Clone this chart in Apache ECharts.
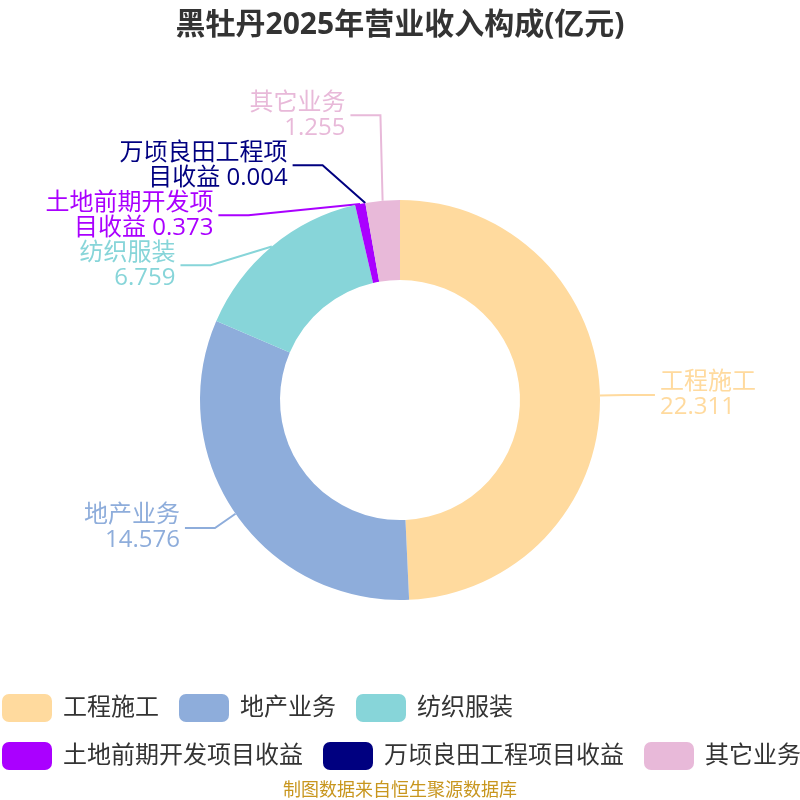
<!DOCTYPE html>
<html>
<head>
<meta charset="utf-8">
<script src="https://cdn.jsdelivr.net/npm/echarts@6/dist/echarts.min.js"></script>
<style>
html, body { margin: 0; padding: 0; background: #fff; }
#container { width: 800px; height: 800px; }
</style>
</head>
<body>
<div id="container"></div>
<script>
// 数据
var names = ['工程施工', '地产业务', '纺织服装', '土地前期开发项目收益', '万顷良田工程项目收益', '其它业务'];
var values = [22.311, 14.576, 6.759, 0.373, 0.004, 1.255];
var colors = ['#FFDA9E', '#8EADDB', '#87D5D9', '#AA00FF', '#000080', '#E8B9D9'];

var dom = document.getElementById("container");
var myChart = echarts.init(dom);
var font = '"Open Sans", "Noto Sans CJK SC", sans-serif';

var lineLen = 25, lineLen2 = 30, ellipseB = 250;
var labelCache = null;

// 标签布局：先按自然位置叠放避免重叠，再把每组的平均偏移量平衡回去
function computeLabels(h) {
    var data = myChart.getModel().getSeriesByIndex(0).getData();
    var items = [];
    for (var i = 0; i < data.count(); i++) {
        var ly = data.getItemLayout(i);
        var mid = (ly.startAngle + ly.endAngle) / 2;
        var dx = Math.cos(mid), dy = Math.sin(mid);
        var rA = ly.r + lineLen;
        items.push({
            idx: i, cx: ly.cx, cy: ly.cy, rA: rA,
            dir: dx < 0 ? -1 : 1,
            p0: [ly.cx + ly.r * dx, ly.cy + ly.r * dy],
            ex: ly.cx + rA * dx,
            y0: ly.cy + rA * dy
        });
    }
    var out = {};
    [-1, 1].forEach(function (dir) {
        var side = items.filter(function (it) { return it.dir === dir; });
        side.sort(function (a, b) { return a.y0 - b.y0; });
        var last = -Infinity;
        side.forEach(function (it) {
            it.y = Math.max(it.y0, last + h);
            last = it.y;
        });
        // 按接触的标签分组
        var groups = [], cur = [];
        side.forEach(function (it, k) {
            if (k > 0 && it.y - side[k - 1].y > h + 0.5) { groups.push(cur); cur = []; }
            cur.push(it);
        });
        if (cur.length) groups.push(cur);
        groups.forEach(function (g) {
            var s = 0;
            g.forEach(function (it) { s += it.y - it.y0; });
            var m = s / g.length;
            g.forEach(function (it) { it.y -= m; });
        });
        side.forEach(function (it) {
            var ex = it.ex;
            if (Math.abs(it.y - it.y0) > 0.5) {
                var d = Math.abs(it.y - it.cy);
                if (d < ellipseB) {
                    ex = it.cx + dir * it.rA * Math.sqrt(1 - d * d / (ellipseB * ellipseB));
                }
            }
            var endX = ex + dir * lineLen2;
            out[it.idx] = {
                x: endX + dir * 5,
                y: it.y,
                align: dir < 0 ? 'right' : 'left',
                verticalAlign: 'middle',
                labelLinePoints: [it.p0, [ex, it.y], [endX, it.y]]
            };
        });
    });
    return out;
}

var pieData = names.map(function (n, i) {
    return {
        name: n,
        value: values[i],
        itemStyle: { color: colors[i] },
        label: { color: colors[i] }
    };
});

var option = {
    animation: false,
    textStyle: { fontFamily: font },
    title: [{
        text: '黑牡丹2025年营业收入构成(亿元)',
        left: 'center',
        top: 5,
        textStyle: { fontSize: 30, fontWeight: 'bold', color: '#333', fontFamily: font }
    }, {
        text: '制图数据来自恒生聚源数据库',
        left: 'center',
        top: 777,
        textStyle: { fontSize: 18, fontWeight: 'normal', color: '#C8961E', fontFamily: font }
    }],
    legend: {
        left: 2,
        top: 694,
        width: 820,
        padding: 0,
        itemWidth: 50,
        itemHeight: 28,
        itemGap: 20,
        icon: 'roundRect',
        textStyle: { fontSize: 24, color: '#333', fontFamily: font, padding: [0, 0, 0, 6] }
    },
    series: [{
        type: 'pie',
        center: [400, 400],
        radius: [120, 200],
        startAngle: 90,
        clockwise: true,
        label: {
            show: true,
            fontSize: 24,
            lineHeight: 25,
            width: 200,
            overflow: 'none',
            fontFamily: font,
            formatter: function (p) {
                var n = p.name;
                if (n.length > 7) {
                    return n.slice(0, 7) + '\n' + n.slice(7) + ' ' + p.value;
                }
                return n + '\n' + p.value;
            }
        },
        labelLine: { show: true, length: lineLen, length2: lineLen2, lineStyle: { width: 2 } },
        labelLayout: function (params) {
            if (!labelCache) labelCache = computeLabels(params.labelRect.height);
            return labelCache[params.dataIndex];
        },
        data: pieData
    }]
};
myChart.setOption(option, true);
</script>
</body>
</html>
